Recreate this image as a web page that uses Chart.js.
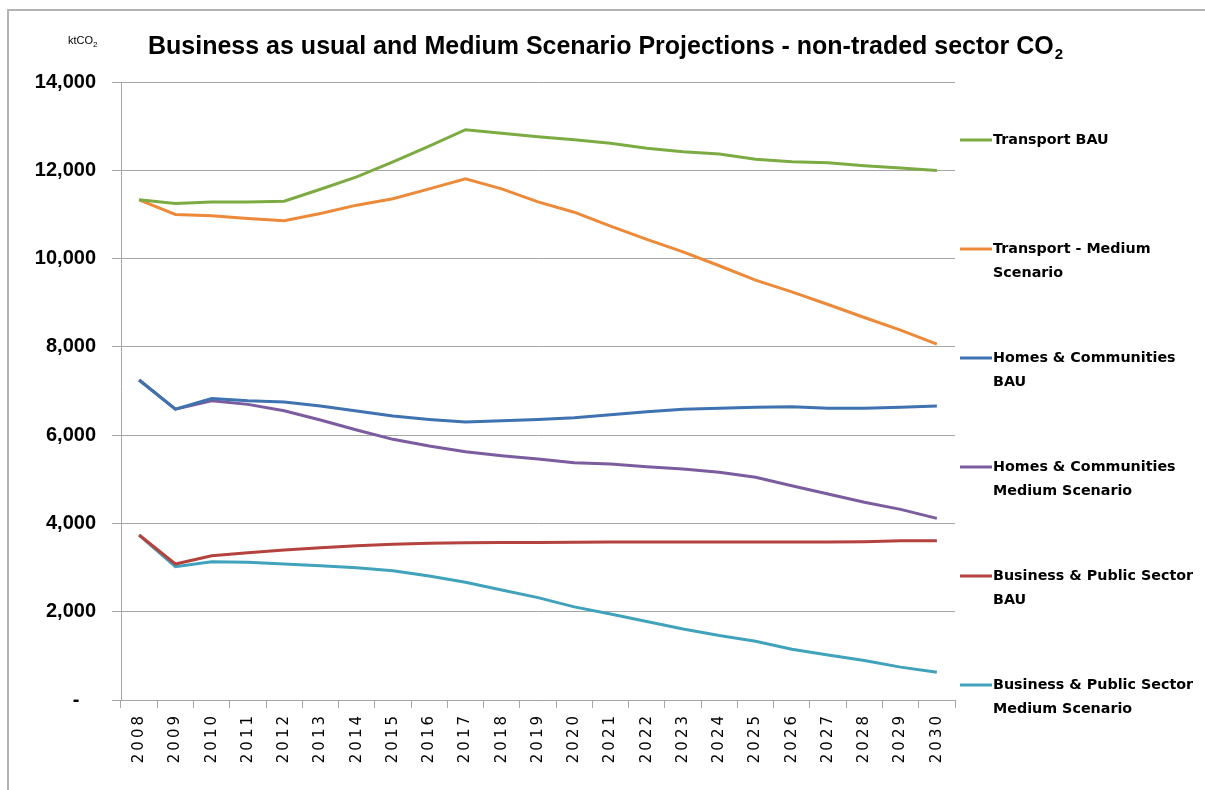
<!DOCTYPE html>
<html>
<head>
<meta charset="utf-8">
<title>Business as usual and Medium Scenario Projections - non-traded sector CO2</title>
<script src="https://cdn.jsdelivr.net/npm/chart.js@4"></script>
<style>
  html, body { margin: 0; padding: 0; background: #fff; }
  #wrap { width: 1205px; height: 790px; }
</style>
</head>
<body>
<div id="wrap"><canvas id="co2" width="1205" height="790"></canvas></div>
<script>
const years = [
  '2008', '2009', '2010', '2011', '2012', '2013', '2014', '2015',
  '2016', '2017', '2018', '2019', '2020', '2021', '2022', '2023',
  '2024', '2025', '2026', '2027', '2028', '2029', '2030',
]

const transportBau = [11330, 11250, 11280, 11280, 11300, 11570, 11850, 12190, 12550, 12920, 12840, 12760, 12690, 12610, 12500, 12420, 12370, 12250, 12195, 12170, 12105, 12050, 11995]
const transportMedium = [11330, 11000, 10970, 10910, 10856, 11020, 11210, 11355, 11580, 11808, 11580, 11285, 11050, 10736, 10435, 10150, 9837, 9510, 9245, 8960, 8665, 8380, 8060]
const homesBau = [7250, 6590, 6830, 6780, 6750, 6660, 6545, 6433, 6357, 6297, 6326, 6357, 6394, 6463, 6530, 6584, 6607, 6630, 6645, 6607, 6607, 6630, 6660]
const homesMedium = [7250, 6590, 6779, 6697, 6553, 6342, 6116, 5905, 5753, 5624, 5533, 5460, 5375, 5345, 5284, 5232, 5157, 5044, 4854, 4666, 4478, 4319, 4115]
const businessBau = [3737, 3080, 3268, 3336, 3398, 3450, 3495, 3526, 3549, 3565, 3570, 3570, 3572, 3580, 3580, 3580, 3580, 3580, 3580, 3580, 3585, 3605, 3610]
const businessMedium = [3737, 3019, 3133, 3118, 3080, 3042, 2997, 2929, 2809, 2666, 2492, 2320, 2110, 1948, 1780, 1610, 1460, 1330, 1150, 1020, 895, 745, 627]

const seriesNames = [
  ['Transport BAU'],
  ['Transport - Medium', 'Scenario'],
  ['Homes & Communities', 'BAU'],
  ['Homes & Communities', 'Medium Scenario'],
  ['Business & Public Sector', 'BAU'],
  ['Business & Public Sector', 'Medium Scenario'],
]
const seriesColors = ['#7dab43', '#ec8a3a', '#3f72b0', '#7b5c9e', '#b4423f', '#40a3bb']
const yTicks = [0, 2000, 4000, 6000, 8000, 10000, 12000, 14000]

const gridGrey = '#a6a6a6'

// frame, title and unit label
const decorations = {
  id: 'decorations',
  beforeDraw(chart) {
    const { ctx } = chart
    ctx.save()
    ctx.strokeStyle = '#b4b4b4'
    ctx.lineWidth = 2
    ctx.beginPath()
    ctx.moveTo(8, 790)
    ctx.lineTo(8, 10)
    ctx.lineTo(1205, 10)
    ctx.stroke()
    ctx.restore()
  },
  afterDraw(chart) {
    const { ctx } = chart
    ctx.save()
    ctx.fillStyle = '#000'
    ctx.textBaseline = 'alphabetic'
    ctx.textAlign = 'left'

    const main = 'Business as usual and Medium Scenario Projections - non-traded sector CO'
    ctx.font = 'bold 24px "Liberation Sans"'
    let w = ctx.measureText(main).width
    ctx.font = `bold ${Math.round(24 * 910 / w)}px "Liberation Sans"`
    ctx.fillText(main, 148, 54)
    w = ctx.measureText(main).width
    ctx.font = 'bold 15px "Liberation Sans"'
    ctx.fillText('2', 148 + w + 1, 59)

    ctx.font = '11px "Liberation Sans"'
    ctx.fillText('ktCO', 68, 44)
    const k = ctx.measureText('ktCO').width
    ctx.font = '8px "Liberation Sans"'
    ctx.fillText('2', 68 + k, 47)
    ctx.restore()
  },
}

// year labels, rotated and spaced out like the original
const yearLabels = {
  id: 'yearLabels',
  afterDraw(chart) {
    const { ctx } = chart
    const xs = chart.scales.x
    ctx.save()
    ctx.fillStyle = '#000'
    ctx.font = '15px "DejaVu Sans"'
    ctx.letterSpacing = '3px'
    ctx.textAlign = 'right'
    ctx.textBaseline = 'middle'
    xs.ticks.forEach((t, i) => {
      ctx.save()
      ctx.translate(xs.getPixelForTick(i), xs.top + 13)
      ctx.rotate(-Math.PI / 2)
      ctx.fillText(years[t.value], 0, 0)
      ctx.restore()
    })
    ctx.restore()
  },
}

// legend drawn as in the original, next to the plot
const sideLegend = {
  id: 'sideLegend',
  afterDraw(chart) {
    const { ctx, chartArea } = chart
    const x0 = chartArea.right + 5
    ctx.save()
    ctx.font = 'bold 14.3px "DejaVu Sans"'
    ctx.textBaseline = 'middle'
    ctx.fillStyle = '#000'
    chart.data.datasets.forEach((ds, i) => {
      const y = chartArea.top + 58 + i * 109
      ctx.strokeStyle = ds.borderColor
      ctx.lineWidth = 3
      ctx.beginPath()
      ctx.moveTo(x0, y)
      ctx.lineTo(x0 + 32, y)
      ctx.stroke()
      seriesNames[i].forEach((line, j) => {
        ctx.fillText(line, x0 + 33, y + j * 24)
      })
    })
    ctx.restore()
  },
}

const allSeries = [transportBau, transportMedium, homesBau, homesMedium, businessBau, businessMedium]

const ctx = document.getElementById('co2').getContext('2d')
// eslint-disable-next-line no-unused-vars
const co2Chart = new Chart(ctx, {
  type: 'line',
  data: {
    labels: years,
    datasets: allSeries.map((values, i) => ({
      label: seriesNames[i].join(' '),
      data: values,
      borderColor: seriesColors[i],
      backgroundColor: seriesColors[i],
      borderWidth: 3,
      pointRadius: 0,
      tension: 0,
    })),
  },
  options: {
    responsive: false,
    animation: false,
    layout: {
      padding: { top: 82, right: 250, left: 0, bottom: 0 },
    },
    scales: {
      y: {
        min: 0,
        max: 14000,
        afterFit: (scale) => { scale.width = 121 },
        afterBuildTicks: (scale) => { scale.ticks = yTicks.map((v) => ({ value: v })) },
        grid: {
          color: gridGrey,
          lineWidth: 1,
          tickLength: 9,
        },
        border: { color: gridGrey, width: 1 },
        ticks: {
          padding: 16,
          color: '#000',
          callback: (value) => (value === 0 ? '-   ' : value.toLocaleString('en-US')),
          font: { family: '"Liberation Sans"', size: 20, weight: 'bold' },
        },
      },
      x: {
        offset: true,
        afterFit: (scale) => { scale.height = 90 },
        grid: {
          offset: true,
          drawOnChartArea: false,
          color: gridGrey,
          tickLength: 8,
        },
        border: { color: gridGrey, width: 1 },
        ticks: {
          display: false,
          autoSkip: false,
        },
      },
    },
    plugins: {
      legend: { display: false },
      tooltip: { enabled: false },
      title: { display: false },
    },
  },
  plugins: [decorations, yearLabels, sideLegend],
})
</script>
</body>
</html>
